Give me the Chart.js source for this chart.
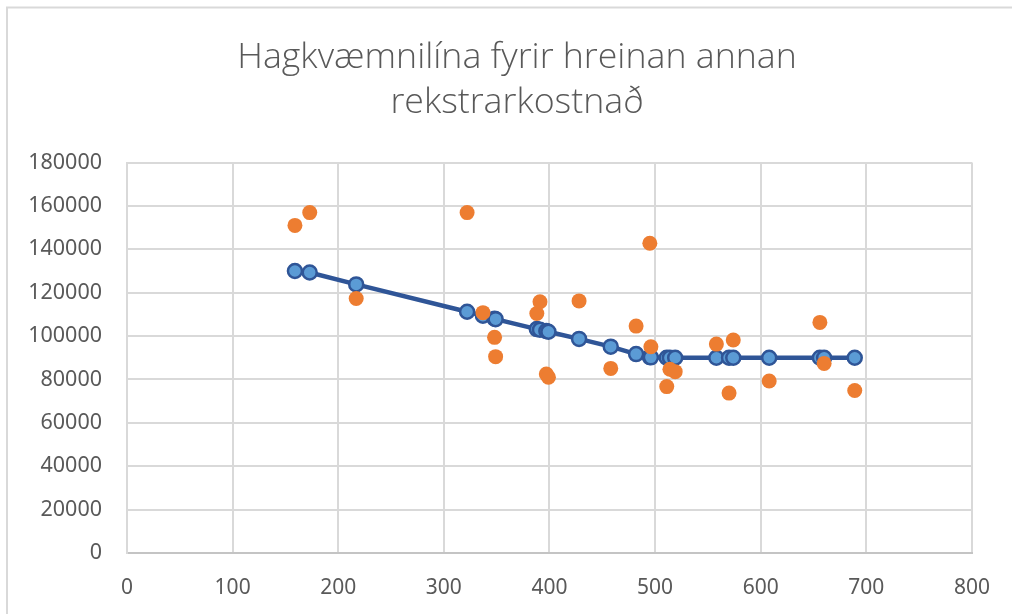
<!DOCTYPE html>
<html>
<head>
<meta charset="utf-8">
<script src="https://cdn.jsdelivr.net/npm/chart.js@4"></script>
<style>
  html, body { margin: 0; padding: 0; background: #ffffff; }
  #wrap { width: 1012px; height: 614px; position: relative; }
</style>
</head>
<body>
<div id="wrap"><canvas id="chart" width="1012" height="614"></canvas></div>
<script>
// --- Data ---
const titleLines = ['Hagkvæmnilína fyrir hreinan annan', 'rekstrarkostnað'];

// x values (shared by both series)
const magn = [159, 173, 217, 322, 337, 348, 349, 388, 391, 397, 399, 428, 458,
              482, 495, 496, 511, 514, 519, 558, 570, 574, 608, 656, 660, 689];

// actual cost (orange dots)
const raunKostnadur = [151000, 156900, 117300, 156900, 110800, 99400, 90500, 110400, 115800,
                       82500, 81000, 116200, 85100, 104600, 142800, 95100, 76700, 84700, 83600,
                       96300, 73700, 98200, 79300, 106300, 87400, 74900];

// efficiency line (blue)
const hagkvaemni = [130000, 129300, 123800, 111200, 109400, 108000, 107800, 103200, 102900,
                    102300, 102000, 98700, 95100, 91700, 90300, 90200, 90000, 90000, 90000,
                    90000, 90000, 90000, 90000, 90000, 90000, 90000];

// axis ticks
const xTicks = [0, 100, 200, 300, 400, 500, 600, 700, 800];
const yTicks = [0, 20000, 40000, 60000, 80000, 100000, 120000, 140000, 160000, 180000];

// --- Helper: pair x with y ---
function points(ys) {
  return magn.map((x, i) => ({ x: x, y: ys[i] }));
}

// --- Frame around the chart (like the Excel chart border) ---
const framePlugin = {
  id: 'frame',
  afterLayout(chart) {
    // Excel centres the title a bit right of the canvas middle
    if (chart.titleBlock) {
      chart.titleBlock.left += 24;
      chart.titleBlock.right += 24;
    }
  },
  beforeDraw(chart) {
    const ctx = chart.ctx;
    ctx.save();
    ctx.fillStyle = '#ffffff';
    ctx.fillRect(0, 0, chart.width, chart.height);
    ctx.strokeStyle = '#d9d9d9';
    ctx.lineWidth = 2;
    ctx.beginPath();
    ctx.moveTo(7, chart.height);
    ctx.lineTo(7, 7.5);
    ctx.lineTo(chart.width, 7.5);
    ctx.stroke();
    ctx.restore();
  }
};

const ctx = document.getElementById('chart').getContext('2d');
new Chart(ctx, {
  type: 'scatter',
  data: {
    datasets: [
      {
        label: 'Raunkostnaður',
        data: points(raunKostnadur),
        backgroundColor: '#ED7D31',
        borderColor: '#ED7D31',
        borderWidth: 0,
        pointRadius: 7.5,
        showLine: false
      },
      {
        label: 'Hagkvæmnilína',
        data: points(hagkvaemni),
        showLine: true,
        borderColor: '#2F5597',
        borderWidth: 4.5,
        pointRadius: 7,
        pointBackgroundColor: '#5B9BD5',
        pointBorderColor: '#2F5597',
        pointBorderWidth: 2.5,
        tension: 0
      }
    ]
  },
  options: {
    responsive: false,
    animation: false,
    events: [],
    layout: { padding: { top: 10, left: 10, right: 36, bottom: 0 } },
    plugins: {
      legend: { display: false },
      tooltip: { enabled: false },
      title: {
        display: true,
        text: titleLines,
        color: '#595959',
        font: { family: '"Open Sans", "Noto Sans", sans-serif', size: 35.7, weight: '300', lineHeight: 45 / 35.7 },
        padding: { top: 25.5, bottom: 37 }
      }
    },
    scales: {
      x: {
        type: 'linear',
        min: 0,
        max: 800,
        afterBuildTicks(scale) { scale.ticks = xTicks.map(v => ({ value: v })); },
        afterFit(scale) { scale.height = 61; },
        grid: { color: '#d9d9d9', lineWidth: 2, drawTicks: false },
        border: { color: '#c4c4c4', width: 2 },
        ticks: {
          color: '#595959',
          padding: 22,
          font: { family: '"Noto Sans", sans-serif', size: 21 }
        }
      },
      y: {
        type: 'linear',
        min: 0,
        max: 180000,
        afterBuildTicks(scale) { scale.ticks = yTicks.map(v => ({ value: v })); },
        afterFit(scale) { scale.width = 117; },
        grid: { color: '#d9d9d9', lineWidth: 2, drawTicks: false },
        border: { color: '#d9d9d9', width: 2 },
        ticks: {
          color: '#595959',
          padding: 25,
          font: { family: '"Noto Sans", sans-serif', size: 21.5 },
          callback: v => String(v)
        }
      }
    }
  },
  plugins: [framePlugin]
});
</script>
</body>
</html>
